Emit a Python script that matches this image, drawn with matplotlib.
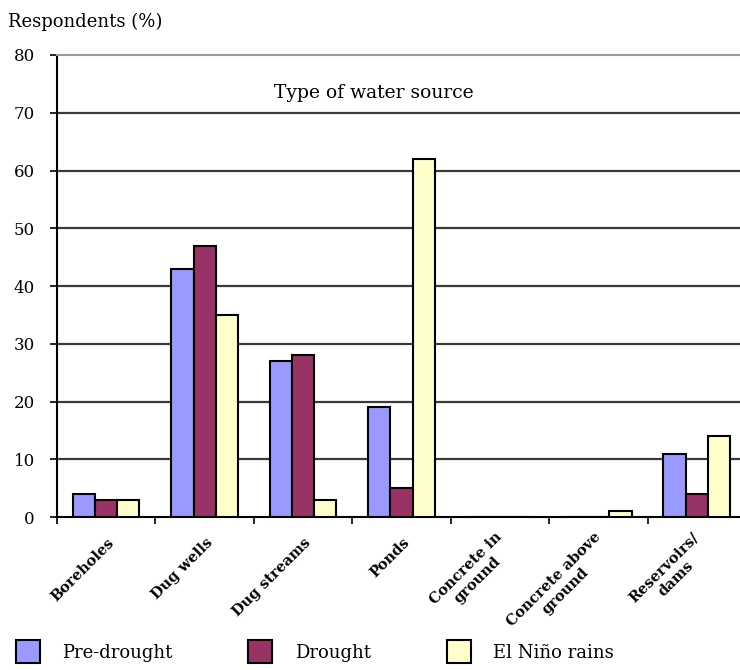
import matplotlib
matplotlib.use("Agg")
import matplotlib.pyplot as plt
import matplotlib.transforms as mtransforms
import numpy as np

plt.rcParams['font.family'] = ['DejaVu Serif']

# Share of respondents using each water source (%)
sources = ["Boreholes", "Dug wells", "Dug streams", "Ponds",
           "Concrete in\nground", "Concrete above\nground", "Reservoirs/\ndams"]
pre_drought = [4, 43, 27, 19, 0, 0, 11]
drought = [3, 47, 28, 5, 0, 0, 4]
el_nino = [3, 35, 3, 62, 0, 1, 14]
series_names = ["Pre-drought", "Drought", "El Niño rains"]
colors = ["#9999FF", "#993366", "#FFFFCC"]

fig = plt.figure(figsize=(7.4, 6.7), dpi=100)
ax = fig.add_axes([0.077, 0.228, 0.931, 0.690])

x = np.arange(len(sources))
w = 0.225
bars = []
for k, (vals, col, name) in enumerate(zip([pre_drought, drought, el_nino], colors, series_names)):
    b = ax.bar(x + (k - 1) * w, vals, w, color=col, edgecolor="black", linewidth=1.5,
               label=name, zorder=3)
    bars.append(b)

ax.set_xlim(-0.5, len(sources) - 0.5)
ax.set_ylim(0, 80)
ax.set_yticks(range(0, 81, 10))
ax.tick_params(axis="y", labelsize=12, length=5, width=1.2, direction="out", pad=11)

# category ticks sit at the boundaries between groups
ax.set_xticks(np.arange(-0.5, len(sources), 1.0))
ax.set_xticklabels([])
ax.tick_params(axis="x", length=5, width=1.2, direction="out")

for y in range(10, 80, 10):
    ax.axhline(y, color="#3a3a3a", linewidth=1.6, zorder=1)

ax.spines["right"].set_visible(False)
ax.spines["top"].set_color("#999999")
ax.spines["top"].set_linewidth(1.5)
ax.spines["left"].set_linewidth(1.5)
ax.spines["bottom"].set_linewidth(1.5)

# rotated category names hanging below each group
for i, name in enumerate(sources):
    off = mtransforms.ScaledTranslation(6 / 100, -23 / 100, fig.dpi_scale_trans)
    ax.text(i, 0, name, transform=ax.get_xaxis_transform() + off,
            rotation=45, rotation_mode="anchor", ha="right", va="center",
            multialignment="center", fontsize=10.5, fontweight="bold")

fig.text(0.011, 0.967, "Respondents (%)", fontsize=13, ha="left", va="center")
ax.text(0.46, 0.918, "Type of water source", transform=ax.transAxes,
        fontsize=13.5, ha="center", va="center")

fig.legend(handles=bars, labels=series_names, loc="lower left",
           bbox_to_anchor=(0.021, 0.01), ncol=3, frameon=False, fontsize=13,
           borderpad=0, borderaxespad=0,
           handlelength=1.33, handleheight=1.6, handletextpad=1.25, columnspacing=4.2)

fig.savefig("out.png", dpi=100)
